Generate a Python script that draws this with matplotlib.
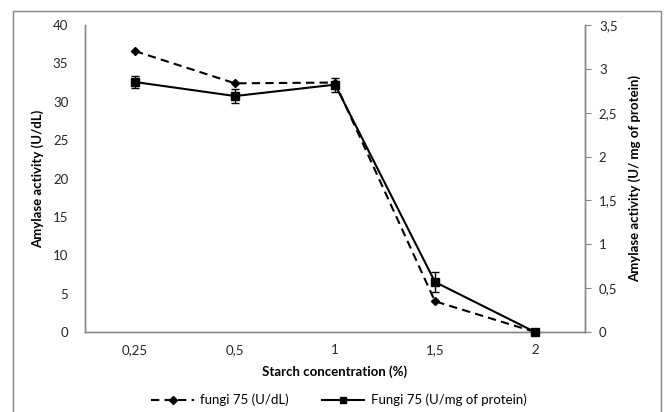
import matplotlib
matplotlib.use("Agg")
import matplotlib.pyplot as plt
from matplotlib.lines import Line2D
from matplotlib.patches import Rectangle
from matplotlib.ticker import FuncFormatter

plt.rcParams["font.family"] = ["Lato", "DejaVu Sans"]
plt.rcParams["font.size"] = 9.5

concentrations = ["0,25", "0,5", "1", "1,5", "2"]
activity_udl = [36.6, 32.4, 32.5, 4.0, 0.0]
activity_protein = [2.85, 2.69, 2.82, 0.57, 0.0]
protein_err = [0.07, 0.08, 0.08, 0.11, 0.0]

grey = "#868686"
label_col = "#262626"

fig = plt.figure(figsize=(6.66, 4.12), dpi=100)
fig.patches.append(Rectangle((13 / 666, -0.05), 648 / 666, 1.05 - 11 / 412,
                             transform=fig.transFigure, fill=False,
                             edgecolor=grey, linewidth=1.0))

ax = fig.add_axes([85 / 666, 80 / 412, 500 / 666, 307 / 412])
ax2 = ax.twinx()

x = list(range(len(concentrations)))

udl_style = dict(color="black", linestyle=(0, (4, 2.5)), linewidth=1.5,
                 marker="D", markersize=4.5)
prot_style = dict(color="black", linewidth=1.5, marker="s", markersize=6)

ax.plot(x, activity_udl, clip_on=False, zorder=3, **udl_style)
eb = ax2.errorbar(x, activity_protein, yerr=protein_err, capsize=3,
                  elinewidth=1.0, capthick=1.0, zorder=3, **prot_style)
for artist in eb.get_children():
    artist.set_clip_on(False)

ax.set_xlim(-0.5, len(concentrations) - 0.5)
ax.set_ylim(0, 40)
ax.set_yticks(range(0, 41, 5))
ax2.set_ylim(0, 3.5)
ax2.set_yticks([0, 0.5, 1, 1.5, 2, 2.5, 3, 3.5])
ax2.yaxis.set_major_formatter(FuncFormatter(lambda v, p: f"{v:g}".replace(".", ",")))

ax.set_xticks(x)
ax.set_xticklabels(concentrations)
ax.tick_params(axis="x", length=0, pad=9, labelcolor=label_col)
ax.tick_params(axis="y", length=0, pad=12, labelcolor=label_col)
ax2.tick_params(axis="y", length=4, pad=6, color=grey, direction="out",
                labelcolor=label_col)

for a in (ax, ax2):
    a.spines["top"].set_visible(False)
    for side in ("left", "right", "bottom"):
        a.spines[side].set_color(grey)
        a.spines[side].set_linewidth(1.0)
        a.spines[side].set_zorder(1)

ax.set_xlabel("Starch concentration (%)", fontweight="bold", labelpad=6)
ax.set_ylabel("Amylase activity (U/dL)", fontweight="bold", labelpad=6)
ax2.set_ylabel("Amylase activity (U/ mg of protein)", fontweight="bold", labelpad=8)

handles = [
    Line2D([], [], **{**udl_style, "markersize": 4}),
    Line2D([], [], **{**prot_style, "markersize": 5}),
]
fig.legend(handles=handles, labels=["fungi 75 (U/dL)", "Fungi 75 (U/mg of protein)"],
           loc="center", bbox_to_anchor=(339 / 666, 12 / 412),
           ncol=2, frameon=False, handlelength=3.2, columnspacing=2.5,
           handletextpad=0.5)

fig.savefig("out.png", dpi=100)
